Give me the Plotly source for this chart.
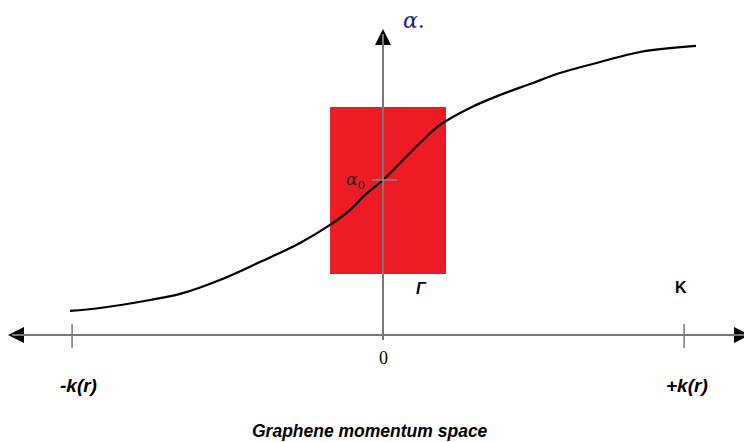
import plotly.graph_objects as go

# curve: alpha vs momentum (data units: k(r)=~1, alpha0 = 1)
curve_x = [-1.023, -0.925, -0.761, -0.663, -0.533, -0.402, -0.271, -0.173, -0.108, -0.059,
           0.0, 0.056, 0.121, 0.186, 0.284, 0.382, 0.480, 0.578, 0.709, 0.840, 1.023]
curve_y = [0.155, 0.174, 0.226, 0.265, 0.355, 0.471, 0.594, 0.710, 0.806, 0.903,
           1.0, 1.110, 1.239, 1.355, 1.465, 1.548, 1.619, 1.690, 1.761, 1.826, 1.865]

rect_x = [-0.173, 0.206]
rect_y = [0.394, 1.471]

k_ticks = [-1.016, 0.984]
k_labels = ["-k(r)", "+k(r)"]
alpha0 = 1.0

# page has an 8px body margin; figure fills the rest of the 752x442 window
OFF = 8
W, H = 752 - OFF, 442 - OFF
X0, SX = 383 - OFF, 306.0
Y0, SY = 335 - OFF, 155.0
xr = [(0 - X0) / SX, (W - X0) / SX]
yr = [(Y0 - H) / SY, (Y0 - 0) / SY]

def px(p):
    return (p - OFF - X0) / SX

def py(p):
    return (Y0 - (p - OFF)) / SY

fig = go.Figure()

fig.add_shape(type="rect", x0=rect_x[0], x1=rect_x[1], y0=rect_y[0], y1=rect_y[1],
              fillcolor="#ED1C24", line=dict(width=0), layer="below")

# axes lines (gray)
fig.add_shape(type="line", x0=px(12), x1=px(746), y0=0, y1=0, line=dict(color="#777777", width=2))
fig.add_shape(type="line", x0=0, x1=0, y0=py(340), y1=py(34), line=dict(color="#777777", width=2))
# ticks
for kx in k_ticks:
    fig.add_shape(type="line", x0=kx, x1=kx, y0=py(324), y1=py(348), line=dict(color="#777777", width=1.5))
fig.add_shape(type="line", x0=px(372), x1=px(397), y0=alpha0, y1=alpha0, line=dict(color="#888888", width=1.5))

fig.add_trace(go.Scatter(x=curve_x, y=curve_y, mode="lines", line=dict(color="black", width=2.2, shape="spline"),
                         hoverinfo="skip", showlegend=False))

# arrowheads as markers
fig.add_trace(go.Scatter(x=[px(8), px(750), 0], y=[0, 0, py(29)], mode="markers",
                         marker=dict(symbol=["arrow-left", "arrow-right", "arrow-up"], size=16, color="black",
                                     line=dict(width=0)),
                         hoverinfo="skip", showlegend=False))

def label(x, y, text, size, family, color="black", bold=False, italic=False):
    t = text
    if bold:
        t = "<b>" + t + "</b>"
    if italic:
        t = "<i>" + t + "</i>"
    fig.add_annotation(x=x, y=y, xref="x", yref="y", text=t, showarrow=False,
                       font=dict(size=size, family=family, color=color))

label(px(414), py(20), "<i>α</i>.", 22, "DejaVu Serif", color="#1F2A6B")
label(px(355), py(180), "<i>α</i><sub>0</sub>", 17, "DejaVu Serif", color="#222222")
label(px(421), py(288), "Γ", 16, "Liberation Sans", bold=True, italic=True)
label(px(681), py(287), "K", 16, "Liberation Sans", bold=True)
label(0, py(358), "0", 18, "Liberation Serif")
label(px(78), py(385), k_labels[0], 19, "Liberation Sans", bold=True, italic=True)
label(px(687), py(385), k_labels[1], 19, "Liberation Sans", bold=True, italic=True)
label(px(370), py(431), "Graphene momentum space", 17.5, "Liberation Sans", bold=True, italic=True)

fig.update_layout(width=W, height=H, margin=dict(l=0, r=0, t=0, b=0),
                  paper_bgcolor="white", plot_bgcolor="white", showlegend=False,
                  xaxis=dict(range=xr, visible=False, fixedrange=True),
                  yaxis=dict(range=yr, visible=False, fixedrange=True))

fig.write_html("out.html")
